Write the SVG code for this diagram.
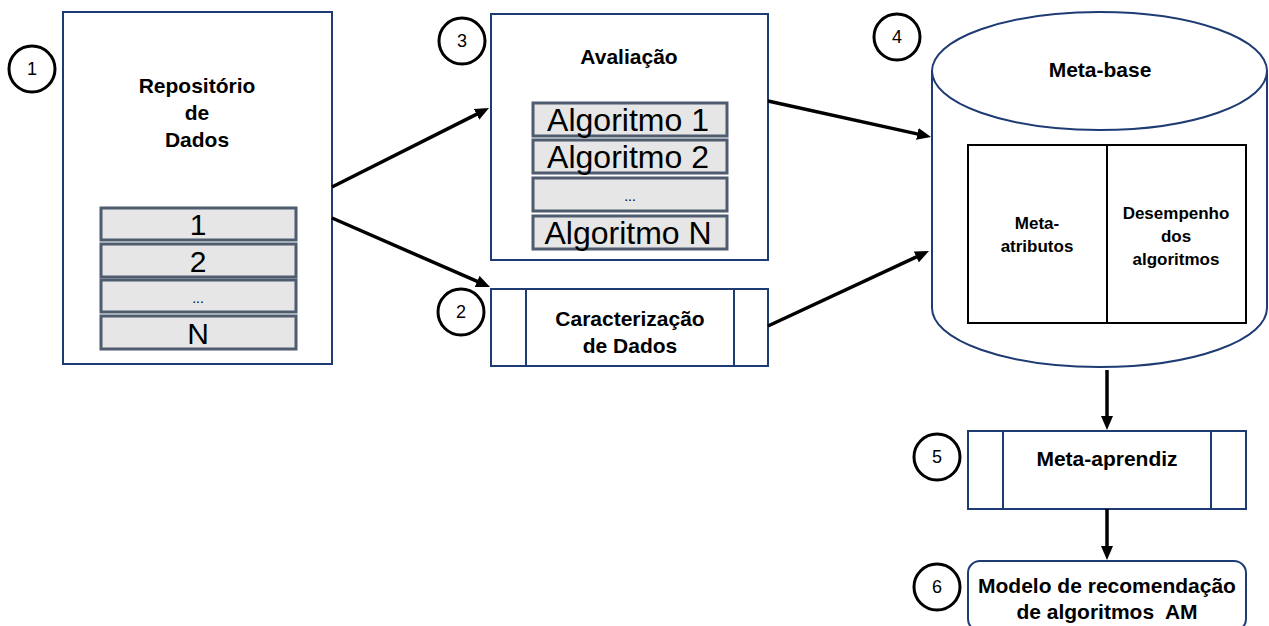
<svg xmlns="http://www.w3.org/2000/svg" width="1269" height="626" viewBox="0 0 1269 626">
<style>
.box{fill:#fff;stroke:#1f3b73;stroke-width:2}
.item{fill:#e6e6e6;stroke:#4f5b6e;stroke-width:3}
.num{fill:none;stroke:#000;stroke-width:3}
.numt{font-family:"Liberation Sans",Arial,sans-serif;font-size:18px;text-anchor:middle;fill:#000}
.lbl{font-family:"Liberation Sans",Arial,sans-serif;font-weight:bold;font-size:21px;text-anchor:middle;fill:#000;white-space:pre}
.sm{font-family:"Liberation Sans",Arial,sans-serif;font-weight:bold;font-size:17px;text-anchor:middle;fill:#000}
.it{font-family:"Liberation Sans",Arial,sans-serif;font-size:30px;text-anchor:middle;fill:#000}
.alg{font-family:"Liberation Sans",Arial,sans-serif;font-size:32px;text-anchor:middle;fill:#000}
.dots{font-family:"Liberation Sans",Arial,sans-serif;font-size:14px;text-anchor:middle;fill:#000}
.conn{stroke:#000;stroke-width:3.5;fill:none;marker-end:url(#ah)}
</style>
<defs>
<marker id="ah" markerUnits="userSpaceOnUse" markerWidth="14" markerHeight="12" refX="2" refY="6" orient="auto">
<path d="M0,0 L14,6 L0,12 z" fill="#000"/>
</marker>
</defs>
<rect width="1269" height="626" fill="#fff"/>

<g id="n1">
<rect class="box" x="63" y="12" width="269" height="352"/>
<text class="lbl" x="197" y="93">Repositório</text>
<text class="lbl" x="197" y="120">de</text>
<text class="lbl" x="197" y="147">Dados</text>
<rect class="item" x="101" y="208" width="195" height="32"/>
<text class="it" x="198" y="235">1</text>
<rect class="item" x="101" y="244" width="195" height="33"/>
<text class="it" x="198" y="272">2</text>
<rect class="item" x="101" y="280" width="195" height="32"/>
<text class="dots" x="198" y="303">...</text>
<rect class="item" x="101" y="316" width="195" height="33"/>
<text class="it" x="198" y="344">N</text>
</g>
<g id="c1"><circle class="num" cx="32" cy="69" r="23"/><text class="numt" x="32" y="75">1</text></g>

<g id="n3">
<rect class="box" x="491" y="14" width="277" height="246"/>
<text class="lbl" x="629" y="64">Avaliação</text>
<rect class="item" x="533" y="103" width="194" height="33"/>
<text class="alg" x="628" y="131">Algoritmo 1</text>
<rect class="item" x="533" y="140" width="194" height="33"/>
<text class="alg" x="628" y="168">Algoritmo 2</text>
<rect class="item" x="533" y="178" width="194" height="33"/>
<text class="dots" x="630" y="201">...</text>
<rect class="item" x="533" y="216" width="194" height="33"/>
<text class="alg" x="628" y="244">Algoritmo N</text>
</g>
<g id="c3"><circle class="num" cx="462" cy="41" r="23"/><text class="numt" x="462" y="47">3</text></g>

<g id="n2">
<rect class="box" x="491" y="289" width="277" height="77"/>
<line class="box" x1="526" y1="289" x2="526" y2="366"/>
<line class="box" x1="734" y1="289" x2="734" y2="366"/>
<text class="lbl" x="630" y="326">Caracterização</text>
<text class="lbl" x="630" y="353">de Dados</text>
</g>
<g id="c2"><circle class="num" cx="461" cy="312" r="23"/><text class="numt" x="461" y="318">2</text></g>

<g id="n4">
<path class="box" d="M932,71 L932,308 A167.5,59 0 0 0 1267,308 L1267,71"/>
<ellipse class="box" cx="1099.5" cy="71" rx="167.5" ry="59"/>
<text class="lbl" x="1100" y="77">Meta-base</text>
<rect x="968" y="145" width="278" height="178" fill="#fff" stroke="#000" stroke-width="2"/>
<line x1="1107" y1="145" x2="1107" y2="323" stroke="#000" stroke-width="2"/>
<text class="sm" x="1037" y="229">Meta-</text>
<text class="sm" x="1037" y="252">atributos</text>
<text class="sm" x="1176" y="219">Desempenho</text>
<text class="sm" x="1176" y="242">dos</text>
<text class="sm" x="1176" y="265">algoritmos</text>
</g>
<g id="c4"><circle class="num" cx="897" cy="37" r="23"/><text class="numt" x="897" y="43">4</text></g>

<g id="n5">
<rect class="box" x="968" y="431" width="278" height="78"/>
<line class="box" x1="1003" y1="431" x2="1003" y2="509"/>
<line class="box" x1="1211" y1="431" x2="1211" y2="509"/>
<text class="lbl" x="1107" y="466">Meta-aprendiz</text>
</g>
<g id="c5"><circle class="num" cx="937" cy="457" r="23"/><text class="numt" x="937" y="463">5</text></g>

<g id="n6">
<rect class="box" x="968" y="561" width="278" height="70" rx="12"/>
<text class="lbl" x="1107" y="593">Modelo de recomendação</text>
<text class="lbl" x="1107" y="619" xml:space="preserve">de algoritmos  AM</text>
</g>
<g id="c6"><circle class="num" cx="937" cy="587" r="23"/><text class="numt" x="937" y="593">6</text></g>

<g id="connectors">
<line class="conn" x1="332" y1="187" x2="478.3" y2="113.4"/>
<line class="conn" x1="332" y1="218" x2="479" y2="282.2"/>
<line class="conn" x1="768" y1="101" x2="919.3" y2="134.4"/>
<line class="conn" x1="768" y1="326" x2="918.1" y2="256.1"/>
<line class="conn" x1="1107" y1="370" x2="1107" y2="418"/>
<line class="conn" x1="1107" y1="509" x2="1107" y2="548"/>
</g>
</svg>
